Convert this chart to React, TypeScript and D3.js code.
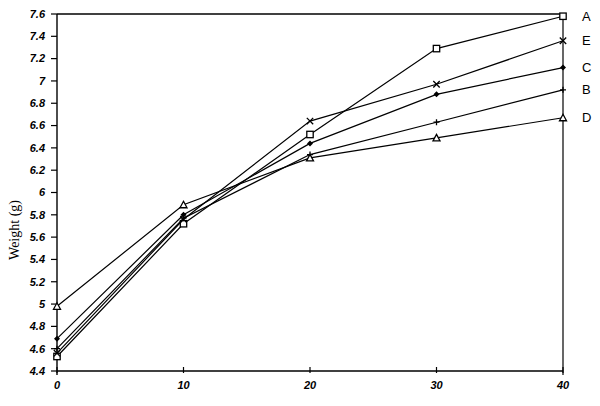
import React from 'react';
import * as d3 from 'd3';

// Weight (g) over time for five groups, drawn as plain black polylines with markers.

const DAYS = [0, 10, 20, 30, 40];
const SERIES_NAMES = ['A', 'E', 'C', 'B', 'D'];
const A_VALUES = [4.53, 5.72, 6.52, 7.29, 7.58];
const E_VALUES = [4.56, 5.76, 6.64, 6.97, 7.36];
const C_VALUES = [4.69, 5.8, 6.44, 6.88, 7.12];
const B_VALUES = [4.6, 5.77, 6.34, 6.63, 6.92];
const D_VALUES = [4.98, 5.89, 6.31, 6.49, 6.67];
const Y_TICKS = d3.range(4.4, 7.61, 0.2).map(v => +v.toFixed(1));

const MARKERS: Record<string, string> = { A: 'square', E: 'cross', C: 'diamond', B: 'plus', D: 'triangle' };

const W = 600;
const H = 406;
const M = { top: 14, right: 36, bottom: 35, left: 57 };

function Marker({ kind, x, y }: { kind: string; x: number; y: number }) {
  const s = 3.2;
  if (kind === 'square') {
    return <rect x={x - s} y={y - s} width={s * 2} height={s * 2} fill="#fff" stroke="#000" strokeWidth={1.3} />;
  }
  if (kind === 'cross') {
    return (
      <path d={`M${x - s},${y - s}L${x + s},${y + s}M${x - s},${y + s}L${x + s},${y - s}`} stroke="#000" strokeWidth={1.3} />
    );
  }
  if (kind === 'diamond') {
    return <path d={`M${x},${y - 3}L${x + 3},${y}L${x},${y + 3}L${x - 3},${y}Z`} fill="#000" />;
  }
  if (kind === 'plus') {
    return <path d={`M${x - 3},${y}L${x + 3},${y}M${x},${y - 3}L${x},${y + 3}`} stroke="#000" strokeWidth={1.3} />;
  }
  return <path d={`M${x},${y - 3.5}L${x + 3.5},${y + 3}L${x - 3.5},${y + 3}Z`} fill="#fff" stroke="#000" strokeWidth={1.3} />;
}

export default function App() {
  const x = d3.scaleLinear().domain([0, 40]).range([M.left, W - M.right - 1]);
  const y = d3.scaleLinear().domain([4.4, 7.6]).range([H - M.bottom, M.top]);

  const data: Record<string, number[]> = { A: A_VALUES, E: E_VALUES, C: C_VALUES, B: B_VALUES, D: D_VALUES };

  const line = d3.line<number>()
    .x((_, i) => x(DAYS[i]))
    .y(d => y(d));

  const x0 = x(0), x1 = x(40), yTop = y(7.6), yBot = y(4.4);
  const tickFont = { fontFamily: 'Liberation Sans, Arial, sans-serif', fontStyle: 'italic', fontWeight: 700, fontSize: 11 };

  return (
    <svg width={W} height={H} style={{ position: 'absolute', left: 0, top: 0, background: '#fff' }}>
      {/* frame */}
      <line x1={x0} x2={x1} y1={yTop} y2={yTop} stroke="#000" strokeWidth={1.4} />
      <line x1={x0} x2={x1} y1={yBot} y2={yBot} stroke="#000" strokeWidth={1.4} />
      <line x1={x0} x2={x0} y1={yTop} y2={yBot + 4} stroke="#000" strokeWidth={1.4} />
      <line x1={x1} x2={x1} y1={yTop} y2={yBot + 4} stroke="#000" strokeWidth={1.2} />

      {Y_TICKS.map(t => (
        <g key={t}>
          <line x1={x0 - 6} x2={x0} y1={y(t)} y2={y(t)} stroke="#000" strokeWidth={1.2} />
          <text x={x0 - 12} y={y(t)} dy="0.35em" textAnchor="end" style={tickFont}>
            {d3.format('~g')(t)}
          </text>
        </g>
      ))}

      {DAYS.map(d => (
        <g key={d}>
          <line x1={x(d)} x2={x(d)} y1={yBot - 4} y2={yBot + 2} stroke="#000" strokeWidth={1.2} />
          <text x={x(d)} y={yBot + 18} textAnchor="middle" style={tickFont}>{d}</text>
        </g>
      ))}

      <text
        transform={`translate(19,230) rotate(-90)`}
        textAnchor="middle"
        style={{ fontFamily: 'Liberation Serif, Times New Roman, serif', fontSize: 14 }}
      >
        Weight (g)
      </text>

      {SERIES_NAMES.map(name => (
        <g key={name}>
          <path d={line(data[name]) || ''} fill="none" stroke="#000" strokeWidth={1.2} />
          {data[name].map((v, i) => (
            <Marker key={i} kind={MARKERS[name]} x={x(DAYS[i])} y={y(v)} />
          ))}
          <text
            x={x1 + 19}
            y={y(data[name][data[name].length - 1])}
            dy="0.35em"
            style={{ fontFamily: 'Liberation Sans, Arial, sans-serif', fontSize: 13 }}
          >
            {name}
          </text>
        </g>
      ))}
    </svg>
  );
}
